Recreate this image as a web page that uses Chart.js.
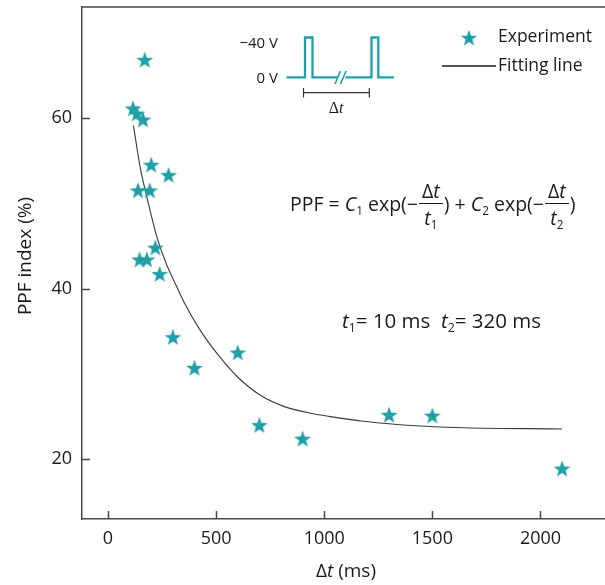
<!DOCTYPE html>
<html>
<head>
<meta charset="utf-8">
<script src="https://cdn.jsdelivr.net/npm/chart.js@4/dist/chart.umd.min.js"></script>
<style>
html,body{margin:0;padding:0;background:#fff;overflow:hidden;}
#wrap{position:relative;width:605px;height:585px;overflow:hidden;font-family:"Open Sans",sans-serif;color:#1a1a1a;}
#wrap canvas{position:absolute;left:0;top:0;}
#deco{position:absolute;left:0;top:0;}
.txt{position:absolute;white-space:nowrap;line-height:1;}
.frac{display:inline-flex;flex-direction:column;align-items:center;vertical-align:middle;margin:0 1px;}
.frac .num{border-bottom:1px solid #1a1a1a;padding:0 3px 2px 3px;}
.frac .den{padding-top:4px;}
sub{font-size:60%;vertical-align:-0.35em;line-height:0;}
</style>
</head>
<body>
<div id="wrap">
  <canvas id="chart" width="640" height="585"></canvas>
  <svg id="deco" width="605" height="585"></svg>

  <div class="txt" style="left:24px;top:256px;font-size:19px;transform:translate(-50%,-50%) rotate(-90deg);">PPF index (%)</div>
  <div class="txt" style="left:346px;top:570px;font-size:19px;transform:translate(-50%,-50%);">Δ<i>t</i> (ms)</div>

  <div class="txt" style="left:498px;top:36px;font-size:17.5px;transform:translateY(-50%);">Experiment</div>
  <div class="txt" style="left:498px;top:65px;font-size:17.5px;transform:translateY(-50%);">Fitting line</div>

  <div class="txt" style="right:327px;top:42px;font-size:15px;transform:translateY(-50%);">−40 V</div>
  <div class="txt" style="right:327px;top:77px;font-size:15px;transform:translateY(-50%);">0 V</div>
  <div class="txt" style="left:336px;top:108px;font-size:16px;font-family:'Liberation Serif',serif;transform:translate(-50%,-50%);">Δ<i>t</i></div>

  <div class="txt" style="left:290px;top:204px;font-size:19.5px;transform:translateY(-50%);">
    <span style="vertical-align:middle">PPF = <i>C</i><sub>1</sub> exp(−</span><span class="frac"><span class="num">Δ<i>t</i></span><span class="den"><i>t</i><sub>1</sub></span></span><span style="vertical-align:middle">) + <i>C</i><sub>2</sub> exp(−</span><span class="frac"><span class="num">Δ<i>t</i></span><span class="den"><i>t</i><sub>2</sub></span></span><span style="vertical-align:middle">)</span>
  </div>
  <div class="txt" style="left:342px;top:320px;font-size:20.5px;transform:translateY(-50%);"><i>t</i><sub>1</sub>= 10 ms&nbsp;&nbsp;<i>t</i><sub>2</sub>= 320 ms</div>
</div>

<script>
// measured points (Δt in ms, PPF index in %)
const expDelta = [170, 116, 134, 162, 200, 280, 139, 193, 219, 146, 180, 239, 300, 400, 600, 700, 900, 1300, 1500, 2100];
const expPPF   = [66.8, 61.1, 60.5, 59.8, 54.5, 53.3, 51.5, 51.5, 44.8, 43.4, 43.4, 41.7, 34.3, 30.7, 32.5, 24.0, 22.4, 25.2, 25.1, 18.9];

// fitted curve
const fitDelta = [118, 149, 180, 227, 273, 311, 350, 427, 504, 597, 705, 813, 936, 1029, 1106, 1183, 1399, 1646, 2100];
const fitPPF   = [59.1, 54.2, 50.7, 46.0, 42.7, 40.6, 38.5, 35.1, 32.4, 29.7, 27.5, 26.2, 25.4, 25.0, 24.7, 24.45, 23.95, 23.7, 23.55];

const xTicks = [0, 500, 1000, 1500, 2000];
const yTicks = [20, 40, 60];

const TEAL = '#1fa0a7';
const AXIS = '#4a4a4a';

function starPoints(cx, cy, R, r){
  const pts = [];
  for(let i=0;i<10;i++){
    const rad = i%2===0 ? R : r;
    const a = -Math.PI/2 + i*Math.PI/5;
    pts.push([cx + rad*Math.cos(a), cy + rad*Math.sin(a)]);
  }
  return pts;
}

const starImg = document.createElement('canvas');
starImg.width = 20; starImg.height = 20;
(function(){
  const c = starImg.getContext('2d');
  c.fillStyle = TEAL;
  c.beginPath();
  starPoints(10, 10.6, 8.8, 3.6).forEach((p,i)=> i ? c.lineTo(p[0],p[1]) : c.moveTo(p[0],p[1]));
  c.closePath();
  c.fill();
})();

// inward ticks + top frame line
const frame = {
  id:'frame',
  afterDraw(chart){
    const {ctx, chartArea:a, scales} = chart;
    ctx.save();
    ctx.strokeStyle = AXIS;
    ctx.lineWidth = 1.5;
    ctx.beginPath();
    ctx.moveTo(a.left, a.top); ctx.lineTo(a.right, a.top);
    scales.x.ticks.forEach(t=>{
      const x = Math.round(scales.x.getPixelForValue(t.value))+0.5;
      ctx.moveTo(x, a.bottom); ctx.lineTo(x, a.bottom-8);
    });
    scales.y.ticks.forEach(t=>{
      const y = Math.round(scales.y.getPixelForValue(t.value))+0.5;
      ctx.moveTo(a.left, y); ctx.lineTo(a.left+8, y);
    });
    ctx.stroke();
    ctx.restore();
  }
};

new Chart(document.getElementById('chart'), {
  type:'scatter',
  data:{
    datasets:[
      {
        label:'Experiment',
        data: expDelta.map((x,i)=>({x, y:expPPF[i]})),
        pointStyle: starImg,
        pointRadius: 9,
        backgroundColor: TEAL
      },
      {
        type:'line',
        label:'Fitting line',
        data: fitDelta.map((x,i)=>({x, y:fitPPF[i]})),
        borderColor:'#3a3a3a',
        borderWidth:1.1,
        pointRadius:0,
        fill:false,
        cubicInterpolationMode:'monotone'
      }
    ]
  },
  options:{
    responsive:false,
    animation:false,
    layout:{autoPadding:false, padding:{left:0, top:7, right:13, bottom:0}},
    plugins:{legend:{display:false}, tooltip:{enabled:false}},
    scales:{
      x:{
        type:'linear', min:-120, max:2400,
        grid:{display:false, drawTicks:false},
        border:{display:true, color:AXIS, width:1.5},
        ticks:{padding:9, color:'#1a1a1a', font:{family:'Open Sans', size:18}, callback:v=>String(v)},
        afterBuildTicks(s){ s.ticks = xTicks.map(v=>({value:v})); },
        afterFit(s){ s.height = 66; s.paddingLeft = 0; s.paddingRight = 0; }
      },
      y:{
        min:13, max:73,
        grid:{display:false, drawTicks:false},
        border:{display:true, color:AXIS, width:1.5},
        ticks:{padding:10, color:'#1a1a1a', font:{family:'Open Sans', size:18}, callback:v=>String(v)},
        afterBuildTicks(s){ s.ticks = yTicks.map(v=>({value:v})); },
        afterFit(s){ s.width = 82; s.paddingTop = 0; s.paddingBottom = 0; }
      }
    }
  },
  plugins:[frame]
});

// pulse inset and legend marks
const legendStar = starPoints(469, 38.5, 8.6, 3.5).map(p=>p[0].toFixed(1)+','+p[1].toFixed(1)).join(' ');
document.getElementById('deco').innerHTML = `
  <polygon points="${legendStar}" fill="${TEAL}"/>
  <line x1="442" y1="66" x2="496" y2="66" stroke="#1a1a1a" stroke-width="1.6"/>
  <path d="M286.5 77.3 H305 V37.5 H312.5 V77.3 H337.5 M345.5 77.3 H371.5 V37.5 H378.3 V77.3 H394" fill="none" stroke="${TEAL}" stroke-width="2.3"/>
  <line x1="335" y1="84" x2="340.5" y2="71" stroke="${TEAL}" stroke-width="1.6"/>
  <line x1="340.5" y1="84" x2="346" y2="71" stroke="${TEAL}" stroke-width="1.6"/>
  <path d="M303.5 88 V97.5 M303.5 92.7 H369.3 M369.3 88 V97.5" fill="none" stroke="#333" stroke-width="1.2"/>
`;
</script>
</body>
</html>
